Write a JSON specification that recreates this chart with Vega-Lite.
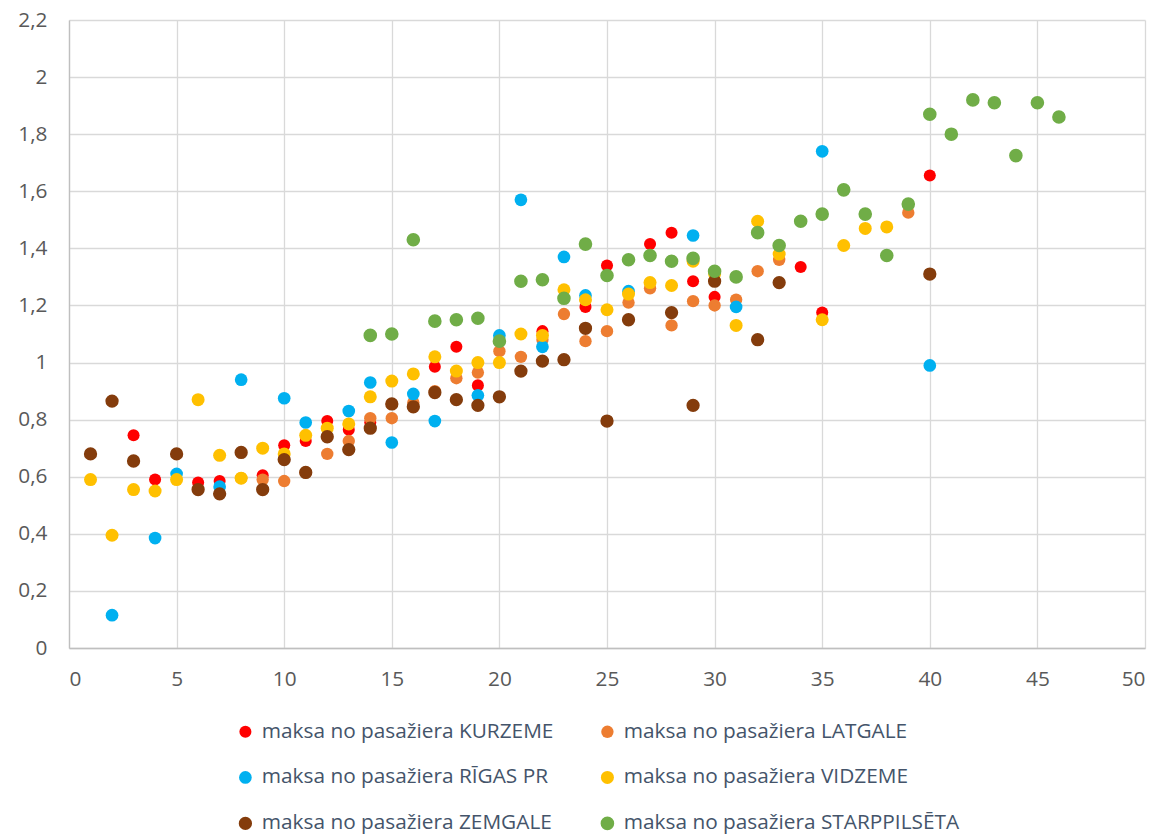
{
  "$schema": "https://vega.github.io/schema/vega-lite/v6.json",
  "width": 1076,
  "height": 628,
  "autosize": "none",
  "padding": {"left": 69, "top": 20, "right": 15, "bottom": 187},
  "background": "white",
  "config": {"view": {"stroke": null}, "font": "Open Sans"},
  "data": {"values": [
    {"s": "maksa no pasažiera KURZEME", "x": 3, "y": 0.745},
    {"s": "maksa no pasažiera KURZEME", "x": 4, "y": 0.59},
    {"s": "maksa no pasažiera KURZEME", "x": 6, "y": 0.58},
    {"s": "maksa no pasažiera KURZEME", "x": 7, "y": 0.585},
    {"s": "maksa no pasažiera KURZEME", "x": 9, "y": 0.605},
    {"s": "maksa no pasažiera KURZEME", "x": 10, "y": 0.71},
    {"s": "maksa no pasažiera KURZEME", "x": 11, "y": 0.725},
    {"s": "maksa no pasažiera KURZEME", "x": 12, "y": 0.795},
    {"s": "maksa no pasažiera KURZEME", "x": 13, "y": 0.765},
    {"s": "maksa no pasažiera KURZEME", "x": 14, "y": 0.79},
    {"s": "maksa no pasažiera KURZEME", "x": 15, "y": 0.855},
    {"s": "maksa no pasažiera KURZEME", "x": 17, "y": 0.985},
    {"s": "maksa no pasažiera KURZEME", "x": 18, "y": 1.055},
    {"s": "maksa no pasažiera KURZEME", "x": 19, "y": 0.92},
    {"s": "maksa no pasažiera KURZEME", "x": 22, "y": 1.11},
    {"s": "maksa no pasažiera KURZEME", "x": 24, "y": 1.195},
    {"s": "maksa no pasažiera KURZEME", "x": 25, "y": 1.34},
    {"s": "maksa no pasažiera KURZEME", "x": 27, "y": 1.415},
    {"s": "maksa no pasažiera KURZEME", "x": 28, "y": 1.455},
    {"s": "maksa no pasažiera KURZEME", "x": 29, "y": 1.285},
    {"s": "maksa no pasažiera KURZEME", "x": 30, "y": 1.23},
    {"s": "maksa no pasažiera KURZEME", "x": 34, "y": 1.335},
    {"s": "maksa no pasažiera KURZEME", "x": 35, "y": 1.175},
    {"s": "maksa no pasažiera KURZEME", "x": 40, "y": 1.655},
    {"s": "maksa no pasažiera LATGALE", "x": 8, "y": 0.595},
    {"s": "maksa no pasažiera LATGALE", "x": 9, "y": 0.59},
    {"s": "maksa no pasažiera LATGALE", "x": 10, "y": 0.585},
    {"s": "maksa no pasažiera LATGALE", "x": 11, "y": 0.615},
    {"s": "maksa no pasažiera LATGALE", "x": 12, "y": 0.68},
    {"s": "maksa no pasažiera LATGALE", "x": 13, "y": 0.725},
    {"s": "maksa no pasažiera LATGALE", "x": 14, "y": 0.805},
    {"s": "maksa no pasažiera LATGALE", "x": 15, "y": 0.805},
    {"s": "maksa no pasažiera LATGALE", "x": 16, "y": 0.86},
    {"s": "maksa no pasažiera LATGALE", "x": 17, "y": 0.9},
    {"s": "maksa no pasažiera LATGALE", "x": 18, "y": 0.945},
    {"s": "maksa no pasažiera LATGALE", "x": 19, "y": 0.965},
    {"s": "maksa no pasažiera LATGALE", "x": 20, "y": 1.04},
    {"s": "maksa no pasažiera LATGALE", "x": 21, "y": 1.02},
    {"s": "maksa no pasažiera LATGALE", "x": 22, "y": 1.08},
    {"s": "maksa no pasažiera LATGALE", "x": 23, "y": 1.17},
    {"s": "maksa no pasažiera LATGALE", "x": 24, "y": 1.075},
    {"s": "maksa no pasažiera LATGALE", "x": 25, "y": 1.11},
    {"s": "maksa no pasažiera LATGALE", "x": 26, "y": 1.21},
    {"s": "maksa no pasažiera LATGALE", "x": 27, "y": 1.26},
    {"s": "maksa no pasažiera LATGALE", "x": 28, "y": 1.13},
    {"s": "maksa no pasažiera LATGALE", "x": 29, "y": 1.215},
    {"s": "maksa no pasažiera LATGALE", "x": 30, "y": 1.2},
    {"s": "maksa no pasažiera LATGALE", "x": 31, "y": 1.22},
    {"s": "maksa no pasažiera LATGALE", "x": 32, "y": 1.32},
    {"s": "maksa no pasažiera LATGALE", "x": 33, "y": 1.36},
    {"s": "maksa no pasažiera LATGALE", "x": 39, "y": 1.525},
    {"s": "maksa no pasažiera RĪGAS PR", "x": 2, "y": 0.115},
    {"s": "maksa no pasažiera RĪGAS PR", "x": 4, "y": 0.385},
    {"s": "maksa no pasažiera RĪGAS PR", "x": 5, "y": 0.61},
    {"s": "maksa no pasažiera RĪGAS PR", "x": 7, "y": 0.565},
    {"s": "maksa no pasažiera RĪGAS PR", "x": 8, "y": 0.94},
    {"s": "maksa no pasažiera RĪGAS PR", "x": 10, "y": 0.875},
    {"s": "maksa no pasažiera RĪGAS PR", "x": 11, "y": 0.79},
    {"s": "maksa no pasažiera RĪGAS PR", "x": 13, "y": 0.83},
    {"s": "maksa no pasažiera RĪGAS PR", "x": 14, "y": 0.93},
    {"s": "maksa no pasažiera RĪGAS PR", "x": 15, "y": 0.72},
    {"s": "maksa no pasažiera RĪGAS PR", "x": 16, "y": 0.89},
    {"s": "maksa no pasažiera RĪGAS PR", "x": 17, "y": 0.795},
    {"s": "maksa no pasažiera RĪGAS PR", "x": 19, "y": 0.885},
    {"s": "maksa no pasažiera RĪGAS PR", "x": 20, "y": 1.095},
    {"s": "maksa no pasažiera RĪGAS PR", "x": 21, "y": 1.57},
    {"s": "maksa no pasažiera RĪGAS PR", "x": 22, "y": 1.055},
    {"s": "maksa no pasažiera RĪGAS PR", "x": 23, "y": 1.37},
    {"s": "maksa no pasažiera RĪGAS PR", "x": 24, "y": 1.235},
    {"s": "maksa no pasažiera RĪGAS PR", "x": 26, "y": 1.25},
    {"s": "maksa no pasažiera RĪGAS PR", "x": 29, "y": 1.445},
    {"s": "maksa no pasažiera RĪGAS PR", "x": 31, "y": 1.195},
    {"s": "maksa no pasažiera RĪGAS PR", "x": 35, "y": 1.74},
    {"s": "maksa no pasažiera RĪGAS PR", "x": 40, "y": 0.99},
    {"s": "maksa no pasažiera VIDZEME", "x": 1, "y": 0.59},
    {"s": "maksa no pasažiera VIDZEME", "x": 2, "y": 0.395},
    {"s": "maksa no pasažiera VIDZEME", "x": 3, "y": 0.555},
    {"s": "maksa no pasažiera VIDZEME", "x": 4, "y": 0.55},
    {"s": "maksa no pasažiera VIDZEME", "x": 5, "y": 0.59},
    {"s": "maksa no pasažiera VIDZEME", "x": 6, "y": 0.87},
    {"s": "maksa no pasažiera VIDZEME", "x": 7, "y": 0.675},
    {"s": "maksa no pasažiera VIDZEME", "x": 8, "y": 0.595},
    {"s": "maksa no pasažiera VIDZEME", "x": 9, "y": 0.7},
    {"s": "maksa no pasažiera VIDZEME", "x": 10, "y": 0.68},
    {"s": "maksa no pasažiera VIDZEME", "x": 11, "y": 0.745},
    {"s": "maksa no pasažiera VIDZEME", "x": 12, "y": 0.77},
    {"s": "maksa no pasažiera VIDZEME", "x": 13, "y": 0.785},
    {"s": "maksa no pasažiera VIDZEME", "x": 14, "y": 0.88},
    {"s": "maksa no pasažiera VIDZEME", "x": 15, "y": 0.935},
    {"s": "maksa no pasažiera VIDZEME", "x": 16, "y": 0.96},
    {"s": "maksa no pasažiera VIDZEME", "x": 17, "y": 1.02},
    {"s": "maksa no pasažiera VIDZEME", "x": 18, "y": 0.97},
    {"s": "maksa no pasažiera VIDZEME", "x": 19, "y": 1.0},
    {"s": "maksa no pasažiera VIDZEME", "x": 20, "y": 1.0},
    {"s": "maksa no pasažiera VIDZEME", "x": 21, "y": 1.1},
    {"s": "maksa no pasažiera VIDZEME", "x": 22, "y": 1.095},
    {"s": "maksa no pasažiera VIDZEME", "x": 23, "y": 1.255},
    {"s": "maksa no pasažiera VIDZEME", "x": 24, "y": 1.22},
    {"s": "maksa no pasažiera VIDZEME", "x": 25, "y": 1.185},
    {"s": "maksa no pasažiera VIDZEME", "x": 26, "y": 1.24},
    {"s": "maksa no pasažiera VIDZEME", "x": 27, "y": 1.28},
    {"s": "maksa no pasažiera VIDZEME", "x": 28, "y": 1.27},
    {"s": "maksa no pasažiera VIDZEME", "x": 29, "y": 1.355},
    {"s": "maksa no pasažiera VIDZEME", "x": 30, "y": 1.31},
    {"s": "maksa no pasažiera VIDZEME", "x": 31, "y": 1.13},
    {"s": "maksa no pasažiera VIDZEME", "x": 32, "y": 1.495},
    {"s": "maksa no pasažiera VIDZEME", "x": 33, "y": 1.38},
    {"s": "maksa no pasažiera VIDZEME", "x": 35, "y": 1.15},
    {"s": "maksa no pasažiera VIDZEME", "x": 36, "y": 1.41},
    {"s": "maksa no pasažiera VIDZEME", "x": 37, "y": 1.47},
    {"s": "maksa no pasažiera VIDZEME", "x": 38, "y": 1.475},
    {"s": "maksa no pasažiera ZEMGALE", "x": 1, "y": 0.68},
    {"s": "maksa no pasažiera ZEMGALE", "x": 2, "y": 0.865},
    {"s": "maksa no pasažiera ZEMGALE", "x": 3, "y": 0.655},
    {"s": "maksa no pasažiera ZEMGALE", "x": 5, "y": 0.68},
    {"s": "maksa no pasažiera ZEMGALE", "x": 6, "y": 0.555},
    {"s": "maksa no pasažiera ZEMGALE", "x": 7, "y": 0.54},
    {"s": "maksa no pasažiera ZEMGALE", "x": 8, "y": 0.685},
    {"s": "maksa no pasažiera ZEMGALE", "x": 9, "y": 0.555},
    {"s": "maksa no pasažiera ZEMGALE", "x": 10, "y": 0.66},
    {"s": "maksa no pasažiera ZEMGALE", "x": 11, "y": 0.615},
    {"s": "maksa no pasažiera ZEMGALE", "x": 12, "y": 0.74},
    {"s": "maksa no pasažiera ZEMGALE", "x": 13, "y": 0.695},
    {"s": "maksa no pasažiera ZEMGALE", "x": 14, "y": 0.77},
    {"s": "maksa no pasažiera ZEMGALE", "x": 15, "y": 0.855},
    {"s": "maksa no pasažiera ZEMGALE", "x": 16, "y": 0.845},
    {"s": "maksa no pasažiera ZEMGALE", "x": 17, "y": 0.895},
    {"s": "maksa no pasažiera ZEMGALE", "x": 18, "y": 0.87},
    {"s": "maksa no pasažiera ZEMGALE", "x": 19, "y": 0.85},
    {"s": "maksa no pasažiera ZEMGALE", "x": 20, "y": 0.88},
    {"s": "maksa no pasažiera ZEMGALE", "x": 21, "y": 0.97},
    {"s": "maksa no pasažiera ZEMGALE", "x": 22, "y": 1.005},
    {"s": "maksa no pasažiera ZEMGALE", "x": 23, "y": 1.01},
    {"s": "maksa no pasažiera ZEMGALE", "x": 24, "y": 1.12},
    {"s": "maksa no pasažiera ZEMGALE", "x": 25, "y": 0.795},
    {"s": "maksa no pasažiera ZEMGALE", "x": 26, "y": 1.15},
    {"s": "maksa no pasažiera ZEMGALE", "x": 28, "y": 1.175},
    {"s": "maksa no pasažiera ZEMGALE", "x": 29, "y": 0.85},
    {"s": "maksa no pasažiera ZEMGALE", "x": 30, "y": 1.285},
    {"s": "maksa no pasažiera ZEMGALE", "x": 32, "y": 1.08},
    {"s": "maksa no pasažiera ZEMGALE", "x": 33, "y": 1.28},
    {"s": "maksa no pasažiera ZEMGALE", "x": 40, "y": 1.31},
    {"s": "maksa no pasažiera STARPPILSĒTA", "x": 14, "y": 1.095},
    {"s": "maksa no pasažiera STARPPILSĒTA", "x": 15, "y": 1.1},
    {"s": "maksa no pasažiera STARPPILSĒTA", "x": 16, "y": 1.43},
    {"s": "maksa no pasažiera STARPPILSĒTA", "x": 17, "y": 1.145},
    {"s": "maksa no pasažiera STARPPILSĒTA", "x": 18, "y": 1.15},
    {"s": "maksa no pasažiera STARPPILSĒTA", "x": 19, "y": 1.155},
    {"s": "maksa no pasažiera STARPPILSĒTA", "x": 20, "y": 1.075},
    {"s": "maksa no pasažiera STARPPILSĒTA", "x": 21, "y": 1.285},
    {"s": "maksa no pasažiera STARPPILSĒTA", "x": 22, "y": 1.29},
    {"s": "maksa no pasažiera STARPPILSĒTA", "x": 23, "y": 1.225},
    {"s": "maksa no pasažiera STARPPILSĒTA", "x": 24, "y": 1.415},
    {"s": "maksa no pasažiera STARPPILSĒTA", "x": 25, "y": 1.305},
    {"s": "maksa no pasažiera STARPPILSĒTA", "x": 26, "y": 1.36},
    {"s": "maksa no pasažiera STARPPILSĒTA", "x": 27, "y": 1.375},
    {"s": "maksa no pasažiera STARPPILSĒTA", "x": 28, "y": 1.355},
    {"s": "maksa no pasažiera STARPPILSĒTA", "x": 29, "y": 1.365},
    {"s": "maksa no pasažiera STARPPILSĒTA", "x": 30, "y": 1.32},
    {"s": "maksa no pasažiera STARPPILSĒTA", "x": 31, "y": 1.3},
    {"s": "maksa no pasažiera STARPPILSĒTA", "x": 32, "y": 1.455},
    {"s": "maksa no pasažiera STARPPILSĒTA", "x": 33, "y": 1.41},
    {"s": "maksa no pasažiera STARPPILSĒTA", "x": 34, "y": 1.495},
    {"s": "maksa no pasažiera STARPPILSĒTA", "x": 35, "y": 1.52},
    {"s": "maksa no pasažiera STARPPILSĒTA", "x": 36, "y": 1.605},
    {"s": "maksa no pasažiera STARPPILSĒTA", "x": 37, "y": 1.52},
    {"s": "maksa no pasažiera STARPPILSĒTA", "x": 38, "y": 1.375},
    {"s": "maksa no pasažiera STARPPILSĒTA", "x": 39, "y": 1.555},
    {"s": "maksa no pasažiera STARPPILSĒTA", "x": 40, "y": 1.87},
    {"s": "maksa no pasažiera STARPPILSĒTA", "x": 41, "y": 1.8},
    {"s": "maksa no pasažiera STARPPILSĒTA", "x": 42, "y": 1.92},
    {"s": "maksa no pasažiera STARPPILSĒTA", "x": 43, "y": 1.91},
    {"s": "maksa no pasažiera STARPPILSĒTA", "x": 44, "y": 1.725},
    {"s": "maksa no pasažiera STARPPILSĒTA", "x": 45, "y": 1.91},
    {"s": "maksa no pasažiera STARPPILSĒTA", "x": 46, "y": 1.86}
  ]},
  "mark": {"type": "point", "filled": true, "opacity": 1, "strokeWidth": 0},
  "encoding": {
    "x": {
      "field": "x", "type": "quantitative",
      "scale": {"domain": [0, 50], "nice": false},
      "axis": {
        "title": null,
        "values": [0, 5, 10, 15, 20, 25, 30, 35, 40, 45, 50],
        "grid": true, "gridColor": "#D9D9D9", "gridWidth": 1.3,
        "domainColor": "#BFBFBF", "domainWidth": 1.3,
        "ticks": false,
        "labelFont": "Open Sans", "labelFontSize": 20.8, "labelColor": "#595959",
        "labelPadding": 21
      }
    },
    "y": {
      "field": "y", "type": "quantitative",
      "scale": {"domain": [0, 2.2], "nice": false},
      "axis": {
        "title": null,
        "values": [0, 0.2, 0.4, 0.6, 0.8, 1, 1.2, 1.4, 1.6, 1.8, 2, 2.2],
        "labelExpr": "replace(format(datum.value, '.1~f'), '.', ',')",
        "grid": true, "gridColor": "#D9D9D9", "gridWidth": 1.3,
        "domainColor": "#BFBFBF", "domainWidth": 1.3,
        "ticks": false,
        "labelFont": "Open Sans", "labelFontSize": 20.8, "labelColor": "#595959",
        "labelPadding": 22
      }
    },
    "size": {
      "field": "s", "type": "nominal",
      "scale": {
        "domain": ["maksa no pasažiera KURZEME", "maksa no pasažiera LATGALE", "maksa no pasažiera RĪGAS PR", "maksa no pasažiera VIDZEME", "maksa no pasažiera ZEMGALE", "maksa no pasažiera STARPPILSĒTA"],
        "range": [145, 185, 145, 185, 145, 185]
      },
      "legend": null
    },
    "color": {
      "field": "s", "type": "nominal",
      "scale": {
        "domain": ["maksa no pasažiera KURZEME", "maksa no pasažiera LATGALE", "maksa no pasažiera RĪGAS PR", "maksa no pasažiera VIDZEME", "maksa no pasažiera ZEMGALE", "maksa no pasažiera STARPPILSĒTA"],
        "range": ["#FF0000", "#ED7D31", "#00B0F0", "#FFC000", "#843C0C", "#70AD47"]
      },
      "legend": {
        "title": null,
        "orient": "none",
        "direction": "horizontal",
        "legendX": 166,
        "legendY": 701,
        "columns": 2,
        "columnPadding": 43,
        "rowPadding": 24,
        "padding": 0,
        "symbolType": "circle",
        "symbolSize": 140,
        "symbolStrokeWidth": 0,
        "symbolOpacity": 1,
        "labelFont": "Open Sans",
        "labelFontSize": 20.8,
        "labelColor": "#44546A",
        "labelOffset": 6,
        "labelLimit": 0
      }
    }
  }
}
